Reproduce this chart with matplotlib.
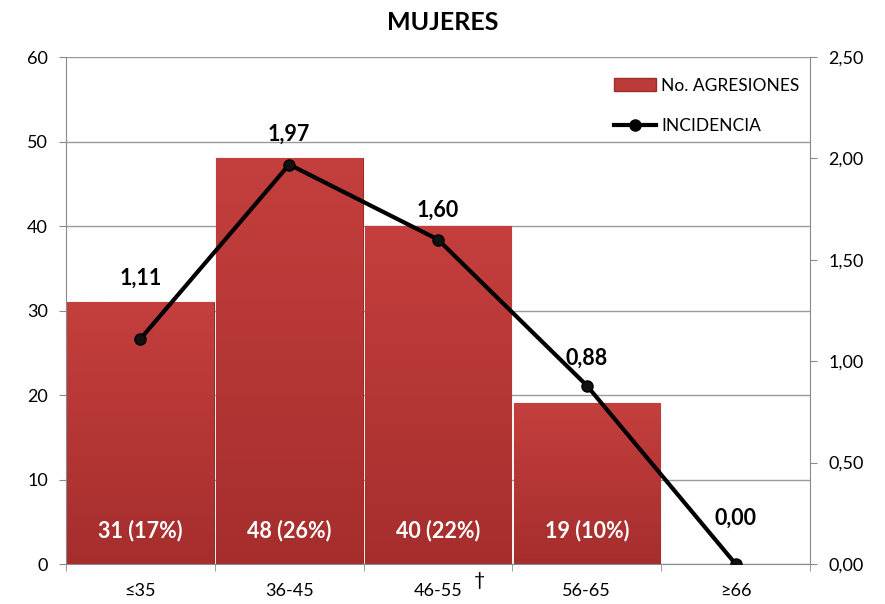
import numpy as np
import matplotlib.pyplot as plt
from matplotlib.lines import Line2D
from matplotlib.patches import Patch

categories = ['≤35', '36-45', '46-55', '56-65', '≥66']
agresiones = [31, 48, 40, 19, 0]
porcentajes = ['17%', '26%', '22%', '10%', '']
incidencia = [1.11, 1.97, 1.60, 0.88, 0.00]

# label offsets above the line points (points)
label_dy = [44, 22, 21, 20, 33]

plt.rcParams['font.family'] = ['Lato', 'DejaVu Sans']

fig = plt.figure(figsize=(8.85, 6.04), dpi=100)
ax = fig.add_axes([0.0746, 0.0662, 0.8407, 0.8394])
ax2 = ax.twinx()

x = np.arange(len(categories))
grad = np.linspace(0, 1, 256).reshape(-1, 1)
cmap = plt.matplotlib.colors.LinearSegmentedColormap.from_list('r', ['#A52E2D', '#C43F3D'])

for i, v in enumerate(agresiones):
    if v <= 0:
        continue
    bar = ax.bar(x[i], v, width=0.985, color='#BC3B39', edgecolor='#9A2C2A', linewidth=0.8, zorder=2)[0]
    im = ax.imshow(grad, extent=[x[i] - 0.4925, x[i] + 0.4925, 0, v], aspect='auto',
                   cmap=cmap, origin='lower', zorder=2.1)
    im.set_clip_path(bar)
    ax.text(x[i], 4, f'{v} ({porcentajes[i]})', ha='center', va='center', color='white',
            fontsize=15.5, fontweight='bold', zorder=5)

ax.set_xlim(-0.5, len(categories) - 0.5)
ax.set_ylim(0, 60)
ax.set_yticks(range(0, 61, 10))
ax.yaxis.grid(True, color='#9A9A9A', linewidth=1)
ax.set_axisbelow(True)
ax.set_xticks(x)
ax.set_xticklabels(categories)
ax.set_xticks(np.arange(-0.5, len(categories)), minor=True)
ax.tick_params(axis='x', which='major', length=0, pad=14, labelsize=13)
ax.tick_params(axis='x', which='minor', length=5, color='#8A8A8A')
ax.tick_params(axis='y', length=5, color='#8A8A8A', labelsize=13, pad=8)
for s in ['left', 'right', 'bottom']:
    ax.spines[s].set_color('#8A8A8A')
ax.spines['top'].set_visible(False)

# dagger after 46-55
ax.annotate('†', xy=(x[2], 0), xycoords=('data', 'axes fraction'), xytext=(26, -6),
            textcoords='offset points', ha='left', va='top', fontsize=14)

ax2.plot(x, incidencia, color='black', linewidth=3, marker='o', markersize=8,
         markerfacecolor='#111111', markeredgecolor='black', zorder=6)
ax2.set_ylim(0, 2.5)
ax2.set_yticks(np.arange(0, 2.51, 0.5))
ax2.set_yticklabels([f'{t:.2f}'.replace('.', ',') for t in np.arange(0, 2.51, 0.5)])
ax2.tick_params(axis='y', length=5, color='#8A8A8A', labelsize=13, pad=8)
for s in ax2.spines.values():
    s.set_visible(False)

for i, v in enumerate(incidencia):
    ax2.annotate(f'{v:.2f}'.replace('.', ','), xy=(x[i], v), xytext=(0, label_dy[i]),
                 textcoords='offset points', ha='center', va='center', fontsize=15.5,
                 fontweight='bold')

handles = [Patch(facecolor='#BC3B39', edgecolor='#9A2C2A'),
           Line2D([0], [0], color='black', linewidth=3, marker='o', markersize=8)]
ax2.legend(handles, ['No. AGRESIONES', 'INCIDENCIA'], loc='upper right', frameon=False,
           fontsize=12.5, labelspacing=1.4, handlelength=2.4, handletextpad=0.3,
           bbox_to_anchor=(1.0, 0.98), borderaxespad=0.2)

fig.text(0.5, 0.963, 'MUJERES', ha='center', va='center', fontsize=18, fontweight='bold')

fig.savefig('out.png', dpi=100)
